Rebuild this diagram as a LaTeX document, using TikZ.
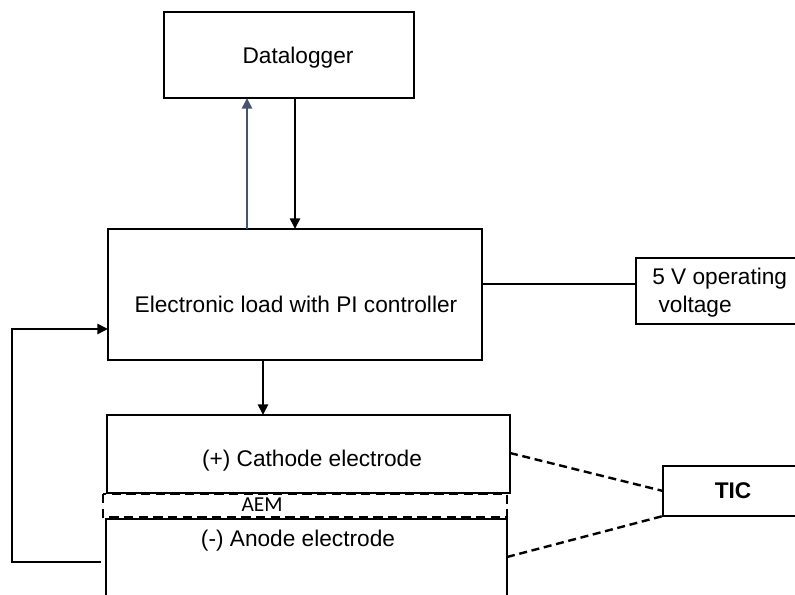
\documentclass[tikz,border=0pt]{standalone}
\usepackage{fontspec}
\setmainfont{Liberation Sans}
\newfontfamily\aemfont{Carlito}
\usetikzlibrary{arrows.meta}
\definecolor{slate}{HTML}{44546A}
\tikzset{
  x=0.75pt, y=-0.75pt,
  block/.style={draw, line width=1.4pt, inner sep=0pt},
  label/.style={font=\fontsize{17}{20.5}\selectfont, inner sep=0pt},
  wire/.style={line width=1.9pt},
  arr/.style={wire, -{Triangle[length=8pt,width=7.5pt]}},
  probe/.style={line width=1.8pt, dash pattern=on 6pt off 3.5pt},
}
\begin{document}
\begin{tikzpicture}
\clip (0,0) rectangle (795,595);
\fill[white] (0,0) rectangle (795,595);

% boxes
\draw[block] (164,12) rectangle (414,98);
\node[label] (dl) at (298,58) {Datalogger};

\draw[block] (108,229) rectangle (482,360);
\node[label] (load) at (296,304) {Electronic load with PI controller};

\draw[block] (636,258) rectangle (800,324);
\node[label, align=left, anchor=north west] (vcc) at (652,268) {5 V operating\\\ voltage};

\draw[block] (107,415) rectangle (510,493);
\node[label] (cat) at (312,461) {(+) Cathode electrode};

\draw[line width=1.8pt, dash pattern=on 7pt off 4pt] (103,494) rectangle (507,517);
\node[font=\aemfont\fontsize{16}{19}\selectfont, inner sep=0pt] (aem) at (262,505) {AEM};

\draw[block] (106,519) rectangle (507,640);
\node[label] (an) at (298,541) {(-) Anode electrode};

\draw[block] (663,466) rectangle (800,516);
\node[label, font=\fontsize{17}{20.5}\selectfont\bfseries] (tic) at (733,491) {TIC};

% named connection points on the box borders
\coordinate (dlUp) at (247,98);
\coordinate (loadUp) at (247,229);
\coordinate (dlDown) at (295,98);
\coordinate (loadDown) at (295,229);
\coordinate (loadR) at (482,284);
\coordinate (vccL) at (636,284);
\coordinate (loadB) at (263,360);
\coordinate (catT) at (263,415);
\coordinate (loadL) at (108,329);
\coordinate (fbTop) at (12,329);
\coordinate (fbBot) at (12,562);
\coordinate (anL) at (101,562);
\coordinate (catR) at (510,453);
\coordinate (ticL) at (663,491);
\coordinate (anR) at (507,557);
\coordinate (ticBL) at (663,516);

% signal lines
\draw[arr, slate] (loadUp) -- (dlUp);
\draw[arr] (dlDown) -- (loadDown);
\draw[wire] (loadR) -- (vccL);
\draw[arr] (loadB) -- (catT);
\draw[arr] (anL) -- (fbBot) -- (fbTop) -- (loadL);

% temperature probes
\draw[probe] (catR) -- (ticL);
\draw[probe] (anR) -- (ticBL);
\end{tikzpicture}
\end{document}
